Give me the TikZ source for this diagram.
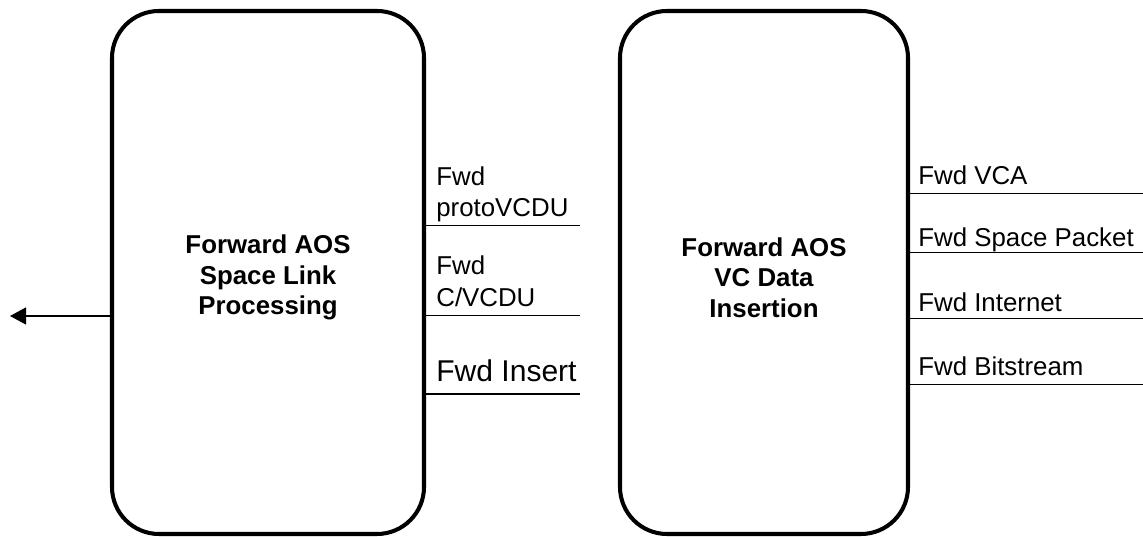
\documentclass[tikz,border=0pt]{standalone}
\usepackage{fontspec}
\setmainfont{Liberation Sans}
\usetikzlibrary{arrows.meta}

\tikzset{
    block/.style={draw, line width=2.3pt, rounded corners=0.94cm, minimum height=10.46cm},
    title/.style={align=center, font=\fontsize{14.7}{17.4}\selectfont\bfseries},
    sig/.style={line width=0.7pt},
    lbl/.style={anchor=base west, inner sep=0pt, align=left, font=\fontsize{14.7}{18.2}\selectfont},
}

\begin{document}
\begin{tikzpicture}
    \useasboundingbox (0,0) rectangle (22.86,10.74);
    \node[block, minimum width=6.24cm](slp) at (5.36,5.29) {};
    \node[block, minimum width=5.76cm](vci) at (15.28,5.29) {};
    \node[title](slpt) at ([yshift=-1mm]slp.center) {Forward AOS\\Space Link\\Processing};
    \node[title](vcit) at ([yshift=-1mm]vci.center) {Forward AOS\\VC Data\\Insertion};
    % free ends
    \coordinate(pvcdu) at (11.6,6.226);
    \coordinate(cvcdu) at (11.6,4.426);
    \coordinate(ins) at (11.6,2.86);
    \coordinate(out) at (0.2,4.42);
    \coordinate(vca) at (22.86,6.874);
    \coordinate(spp) at (22.86,5.686);
    \coordinate(ipe) at (22.86,4.374);
    \coordinate(bit) at (22.86,3.054);
    \draw[sig] (pvcdu -| slp.east) -- (pvcdu);
    \draw[sig] (cvcdu -| slp.east) -- (cvcdu);
    \draw[sig] (ins -| slp.east) -- (ins);
    \draw[sig,-{Triangle[length=3.2mm,width=3.4mm]}] (out -| slp.west) -- (out);
    \draw[sig] (vca -| vci.east) -- (vca);
    \draw[sig] (spp -| vci.east) -- (spp);
    \draw[sig] (ipe -| vci.east) -- (ipe);
    \draw[sig] (bit -| vci.east) -- (bit);
    \node[lbl](lpv) at (8.72,6.4) {Fwd\\protoVCDU};
    \node[lbl](lcv) at (8.72,4.606) {Fwd\\C/VCDU};
    \node[lbl, font=\fontsize{17.1}{20}\selectfont](lin) at (8.72,3.1) {Fwd Insert};
    \node[lbl](lvca) at (18.36,7.04) {Fwd VCA};
    \node[lbl](lspp) at (18.36,5.8) {Fwd Space Packet};
    \node[lbl](lipe) at (18.36,4.5) {Fwd Internet};
    \node[lbl](lbit) at (18.36,3.22) {Fwd Bitstream};
\end{tikzpicture}
\end{document}
